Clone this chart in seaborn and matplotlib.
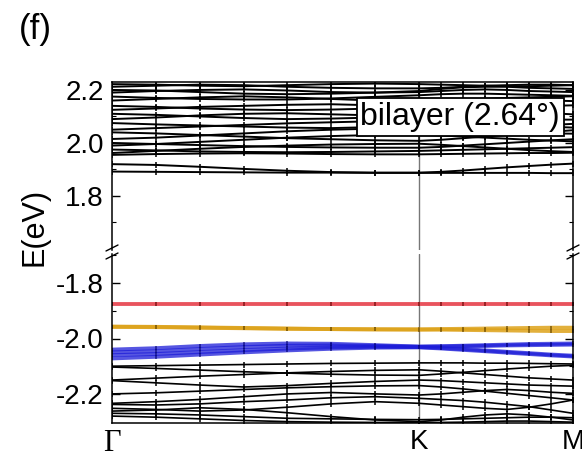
import numpy as np
import pandas as pd
import matplotlib
matplotlib.use("Agg")
import matplotlib.pyplot as plt
import seaborn as sns
from matplotlib.lines import Line2D

# ---------------- data ----------------
kpts = [0.0, 0.143, 0.286, 0.429, 0.571, 0.714, 0.857, 1.0,
        1.071, 1.143, 1.214, 1.286, 1.357, 1.429, 1.5]
klabel_pos = [0.0, 1.0, 1.5]
klabel_txt = ["Γ", "K", "M"]

top_bands = [
    [1.892,1.891,1.890,1.889,1.888,1.888,1.887,1.887,1.887,1.887,1.887,1.887,1.887,1.886,1.886],
    [1.920,1.917,1.910,1.902,1.895,1.890,1.888,1.888,1.891,1.896,1.902,1.908,1.913,1.918,1.922],
    [1.955,1.958,1.960,1.961,1.960,1.958,1.957,1.957,1.958,1.959,1.960,1.961,1.962,1.962,1.963],
    [1.962,1.970,1.978,1.985,1.990,1.994,1.996,1.997,1.993,1.988,1.983,1.978,1.973,1.969,1.966],
    [1.975,1.972,1.968,1.966,1.965,1.966,1.968,1.970,1.972,1.974,1.976,1.978,1.980,1.982,1.984],
    [1.990,1.996,2.004,2.012,2.020,2.026,2.030,2.031,2.028,2.024,2.020,2.016,2.012,2.009,2.006],
    [2.000,1.996,1.992,1.988,1.985,1.983,1.982,1.982,1.985,1.990,1.995,2.000,2.005,2.010,2.014],
    [2.015,2.020,2.028,2.036,2.044,2.050,2.054,2.055,2.050,2.046,2.042,2.040,2.038,2.036,2.035],
    [2.040,2.036,2.030,2.024,2.018,2.014,2.010,2.008,2.012,2.018,2.024,2.030,2.036,2.042,2.048],
    [2.050,2.056,2.062,2.068,2.074,2.078,2.082,2.084,2.080,2.076,2.072,2.068,2.064,2.061,2.058],
    [2.075,2.070,2.066,2.062,2.058,2.056,2.060,2.064,2.062,2.060,2.058,2.060,2.064,2.068,2.072],
    [2.090,2.096,2.104,2.110,2.112,2.108,2.104,2.100,2.098,2.096,2.094,2.092,2.090,2.088,2.088],
    [2.110,2.106,2.100,2.094,2.090,2.092,2.096,2.102,2.108,2.114,2.118,2.120,2.116,2.112,2.108],
    [2.125,2.130,2.136,2.140,2.144,2.146,2.142,2.138,2.136,2.134,2.134,2.136,2.138,2.140,2.142],
    [2.140,2.136,2.130,2.126,2.124,2.126,2.130,2.134,2.140,2.146,2.152,2.156,2.160,2.160,2.158],
    [2.160,2.166,2.172,2.176,2.172,2.166,2.160,2.156,2.158,2.162,2.166,2.170,2.172,2.174,2.176],
    [2.175,2.170,2.166,2.164,2.164,2.168,2.174,2.180,2.184,2.186,2.186,2.184,2.182,2.180,2.178],
    [2.190,2.196,2.200,2.202,2.198,2.192,2.190,2.192,2.196,2.200,2.202,2.200,2.196,2.194,2.192],
    [2.200,2.198,2.192,2.186,2.184,2.186,2.190,2.196,2.204,2.210,2.212,2.212,2.208,2.206,2.204],
    [2.212,2.216,2.220,2.218,2.212,2.208,2.206,2.206,2.208,2.212,2.216,2.218,2.220,2.220,2.218],
    [2.222,2.220,2.216,2.214,2.218,2.222,2.224,2.222,2.220,2.218,2.216,2.214,2.214,2.216,2.218],
]

red_bands = [
    [-1.876]*15,
    [-1.877]*15,
]
yellow_bands = [
    [-1.957,-1.958,-1.960,-1.962,-1.964,-1.966,-1.967,-1.967,-1.966,-1.965,-1.964,-1.963,-1.962,-1.961,-1.961],
    [-1.958,-1.959,-1.961,-1.963,-1.965,-1.966,-1.967,-1.968,-1.968,-1.969,-1.970,-1.971,-1.972,-1.973,-1.973],
]
blue_bands = [
    [-2.040,-2.035,-2.027,-2.021,-2.018,-2.019,-2.024,-2.029,-2.028,-2.026,-2.024,-2.022,-2.020,-2.019,-2.018],
    [-2.050,-2.046,-2.038,-2.031,-2.026,-2.025,-2.027,-2.030,-2.029,-2.028,-2.027,-2.025,-2.024,-2.023,-2.022],
    [-2.060,-2.056,-2.049,-2.042,-2.036,-2.032,-2.030,-2.031,-2.034,-2.038,-2.043,-2.048,-2.053,-2.058,-2.062],
    [-2.072,-2.066,-2.058,-2.050,-2.043,-2.037,-2.033,-2.032,-2.036,-2.041,-2.046,-2.051,-2.056,-2.061,-2.065],
]
bottom_bands = [
    [-2.100,-2.098,-2.096,-2.094,-2.092,-2.090,-2.089,-2.088,-2.088,-2.088,-2.089,-2.089,-2.090,-2.091,-2.092],
    [-2.103,-2.108,-2.114,-2.120,-2.125,-2.129,-2.132,-2.133,-2.128,-2.122,-2.116,-2.110,-2.105,-2.100,-2.097],
    [-2.150,-2.143,-2.136,-2.130,-2.124,-2.119,-2.115,-2.113,-2.118,-2.124,-2.130,-2.136,-2.142,-2.146,-2.150],
    [-2.152,-2.160,-2.168,-2.175,-2.170,-2.162,-2.155,-2.150,-2.152,-2.156,-2.160,-2.164,-2.168,-2.170,-2.172],
    [-2.200,-2.196,-2.190,-2.184,-2.178,-2.174,-2.171,-2.170,-2.175,-2.182,-2.190,-2.198,-2.206,-2.214,-2.222],
    [-2.234,-2.228,-2.220,-2.210,-2.200,-2.195,-2.200,-2.204,-2.200,-2.194,-2.188,-2.184,-2.188,-2.194,-2.198],
    [-2.238,-2.240,-2.236,-2.228,-2.222,-2.214,-2.210,-2.216,-2.220,-2.224,-2.230,-2.238,-2.246,-2.258,-2.270],
    [-2.252,-2.256,-2.262,-2.258,-2.248,-2.236,-2.228,-2.234,-2.240,-2.246,-2.252,-2.256,-2.248,-2.236,-2.222],
    [-2.262,-2.258,-2.250,-2.256,-2.268,-2.282,-2.294,-2.300,-2.294,-2.284,-2.276,-2.272,-2.276,-2.284,-2.294],
    [-2.270,-2.272,-2.276,-2.282,-2.288,-2.290,-2.292,-2.293,-2.292,-2.290,-2.288,-2.286,-2.284,-2.284,-2.286],
    [-2.280,-2.284,-2.290,-2.296,-2.300,-2.302,-2.303,-2.303,-2.303,-2.302,-2.300,-2.298,-2.298,-2.300,-2.302],
]
panel_label = "(f)"
box_label = "bilayer (2.64°)"
ylabel = "E(eV)"


def to_df(bands):
    rows = []
    for b, vals in enumerate(bands):
        for k, e in zip(kpts, vals):
            rows.append((b, k, e))
    return pd.DataFrame(rows, columns=["band", "k", "E"])


# ---------------- style ----------------
sns.set_style("ticks")
plt.rcParams["font.family"] = ["Liberation Sans", "DejaVu Sans"]
plt.rcParams["axes.linewidth"] = 1.1
for key in ("text.color", "axes.labelcolor", "xtick.color", "ytick.color",
            "axes.edgecolor"):
    plt.rcParams[key] = "black"

fig = plt.figure(figsize=(5.82, 4.58), dpi=100)
W, H = 582, 458
x0, x1 = 112, 573
ax_top = fig.add_axes([x0 / W, 1 - 250 / H, (x1 - x0) / W, (250 - 82) / H])
ax_bot = fig.add_axes([x0 / W, 1 - 423 / H, (x1 - x0) / W, (423 - 254) / H])


def draw(ax, bands, color, lw, alpha=1.0, mcolor="black", ms=5):
    sns.lineplot(data=to_df(bands), x="k", y="E", units="band", estimator=None,
                 sort=False, color=color, lw=lw, alpha=alpha, ax=ax,
                 marker="|", markersize=ms, markeredgecolor=mcolor,
                 markeredgewidth=1.1, legend=False)


draw(ax_top, top_bands, "black", 1.4)
draw(ax_bot, bottom_bands, "black", 1.2)
draw(ax_bot, blue_bands, "#1d1dd8", 2.8, alpha=0.75, mcolor="#000070", ms=3)
draw(ax_bot, yellow_bands, "#dda21a", 2.8, alpha=0.85, mcolor="#6b4a00", ms=3)
draw(ax_bot, red_bands, "#e9505a", 2.6, alpha=0.85, mcolor="#7a1010", ms=3)

for ax in (ax_top, ax_bot):
    ax.axvline(klabel_pos[1], color="#777777", lw=1.0, zorder=0.5)
    ax.set_xlim(klabel_pos[0], klabel_pos[-1])
    ax.set_xlabel("")
    ax.set_ylabel("")
    ax.tick_params(axis="y", which="both", direction="in", left=True, right=True,
                   labelsize=20, pad=6)
    ax.tick_params(axis="y", which="major", length=6, width=1.0)
    ax.tick_params(axis="y", which="minor", length=3, width=0.8)

ax_top.set_ylim(1.596, 2.23)
ax_top.set_yticks([1.8, 2.0, 2.2])
ax_top.set_yticks([1.7, 1.9, 2.1], minor=True)
ax_top.set_yticklabels(["1.8", "2.0", "2.2"])
ax_top.set_xticks([])
ax_top.spines["bottom"].set_visible(False)

ax_bot.set_ylim(-2.305, -1.695)
ax_bot.set_yticks([-2.2, -2.0, -1.8])
ax_bot.set_yticks([-2.1, -1.9, -1.7], minor=True)
ax_bot.set_yticklabels(["-2.2", "-2.0", "-1.8"])
ax_bot.spines["top"].set_visible(False)
ax_bot.set_xticks(klabel_pos)
ax_bot.set_xticklabels(klabel_txt)
ax_bot.tick_params(axis="x", length=0, labelsize=20, pad=4)
tl = ax_bot.get_xticklabels()
tl[0].set_fontfamily(["Liberation Serif", "DejaVu Serif"])
tl[0].set_fontsize(22)

# break marks
for xp in (x0, x1):
    for yp in (248, 256):
        fig.add_artist(Line2D([(xp - 6) / W, (xp + 6) / W],
                              [1 - (yp + 3) / H, 1 - (yp - 3) / H],
                              color="black", lw=1.0))

ax_top.text(0.972, 0.79, box_label, transform=ax_top.transAxes, ha="right",
            va="center", fontsize=23,
            bbox=dict(boxstyle="square,pad=0.12", fc="white", ec="black", lw=1.3),
            zorder=10)

fig.text(35 / W, 1 - 227 / H, ylabel, rotation=90, ha="center", va="center",
         fontsize=22)
fig.text(35 / W, 1 - 30 / H, panel_label, ha="center", va="center", fontsize=25)

fig.savefig("out.png", dpi=100)
